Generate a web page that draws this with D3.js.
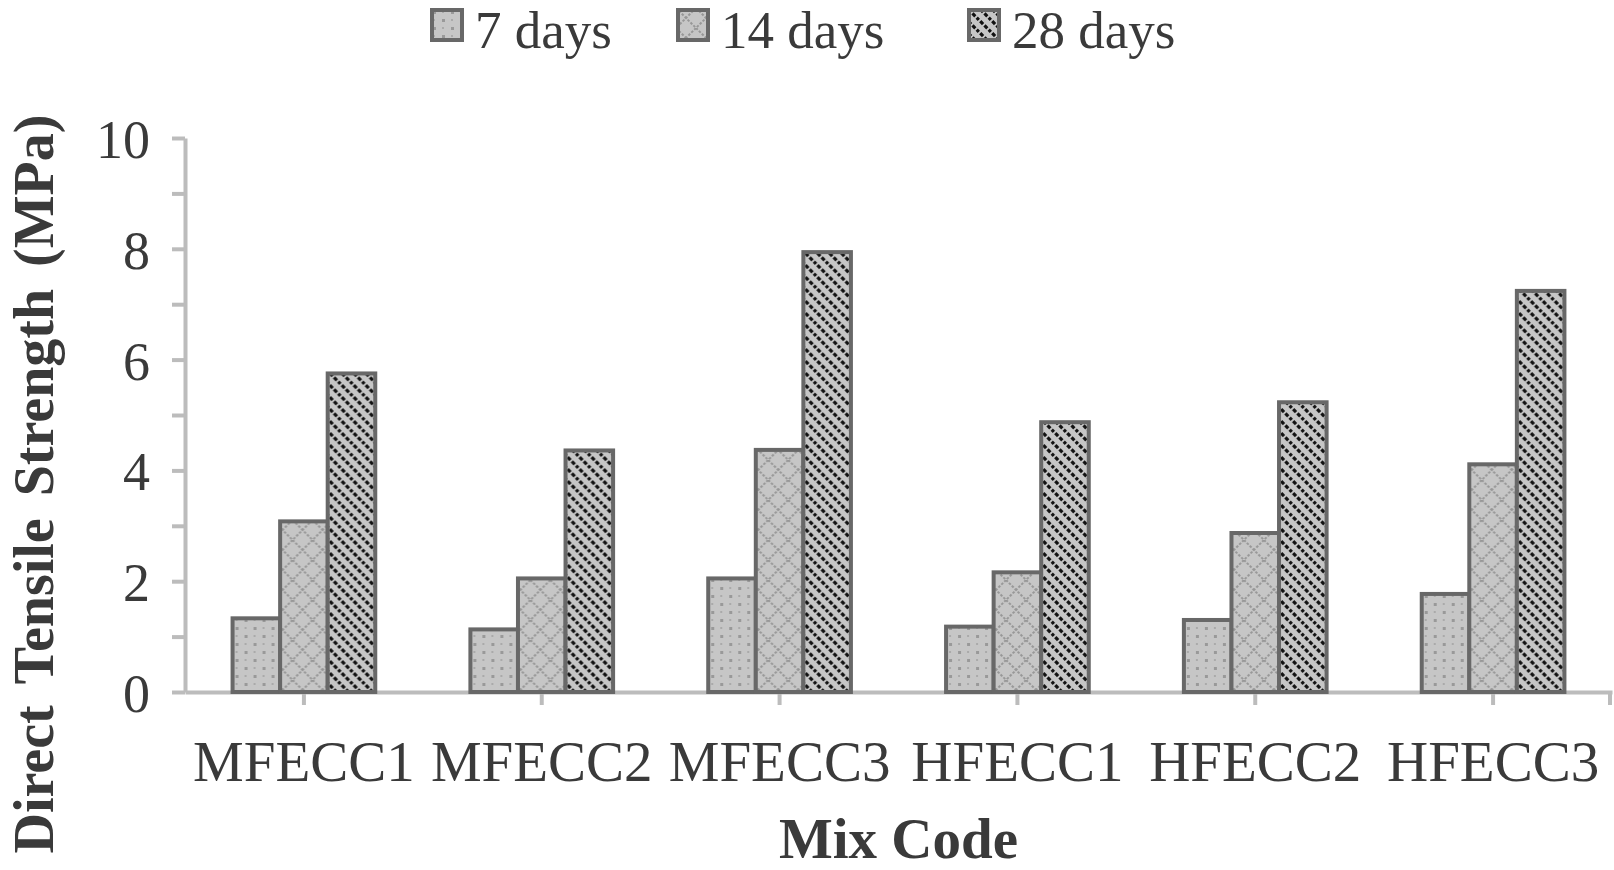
<!DOCTYPE html>
<html>
<head>
<meta charset="utf-8">
<script src="https://cdn.jsdelivr.net/npm/d3@7"></script>
<style>
  html, body { margin: 0; padding: 0; background: #ffffff; }
  svg { display: block; }
  text { font-family: "Liberation Serif", "Times New Roman", serif; fill: #3a3a3a; }
</style>
</head>
<body>
<svg id="chart" width="1614" height="870"></svg>
<script>
// ---- data ----
const categories = ["MFECC1", "MFECC2", "MFECC3", "HFECC1", "HFECC2", "HFECC3"];
const seriesNames = ["7 days", "14 days", "28 days"];
const days7  = [1.33, 1.13, 2.05, 1.18, 1.30, 1.77];
const days14 = [3.08, 2.05, 4.37, 2.16, 2.87, 4.11];
const days28 = [5.75, 4.36, 7.94, 4.87, 5.23, 7.24];
const yTicks = [0, 1, 2, 3, 4, 5, 6, 7, 8, 9, 10];
const yTitle = "Direct Tensile Strength (MPa)";
const xTitle = "Mix Code";

const seriesValues = [days7, days14, days28];

// ---- layout ----
const svg = d3.select("#chart");
const plotLeft = 185, plotRight = 1612, plotTop = 138, plotBottom = 692;

const x0 = d3.scaleBand().domain(categories).range([plotLeft, plotRight])
  .paddingInner(0.4).paddingOuter(0.2);
const x1 = d3.scaleBand().domain(seriesNames).range([0, x0.bandwidth()]).padding(0);
const y = d3.scaleLinear().domain([0, 10]).range([plotBottom, plotTop]);

// ---- patterns ----
const defs = svg.append("defs");
const bg = "#c6c6c6";

// 7 days: sparse small dots
const p1 = defs.append("pattern").attr("id", "pat0").attr("patternUnits", "userSpaceOnUse")
  .attr("width", 18).attr("height", 16);
p1.append("rect").attr("width", 18).attr("height", 16).attr("fill", bg);
p1.append("rect").attr("x", 3).attr("y", 3).attr("width", 3).attr("height", 3).attr("fill", "#999999");
p1.append("rect").attr("x", 12).attr("y", 11).attr("width", 3).attr("height", 3).attr("fill", "#999999");
p1.append("rect").attr("x", 12).attr("y", 3).attr("width", 2).attr("height", 2).attr("fill", "#aaaaaa");
p1.append("rect").attr("x", 3).attr("y", 11).attr("width", 2).attr("height", 2).attr("fill", "#aaaaaa");

// 14 days: diagonal lattice
const p2 = defs.append("pattern").attr("id", "pat1").attr("patternUnits", "userSpaceOnUse")
  .attr("width", 20).attr("height", 20);
p2.append("rect").attr("width", 20).attr("height", 20).attr("fill", bg);
p2.append("path").attr("d", "M0,0 L20,20 M20,0 L0,20")
  .attr("stroke", "#979797").attr("stroke-width", 2).attr("stroke-dasharray", "2.5 1.6").attr("fill", "none");

// 28 days: dashed downward diagonals
const P = 12;
const p3 = defs.append("pattern").attr("id", "pat2").attr("patternUnits", "userSpaceOnUse")
  .attr("width", P).attr("height", P);
p3.append("rect").attr("width", P).attr("height", P).attr("fill", bg);
p3.append("path").attr("d", `M-3,-3 L${P + 3},${P + 3} M-3,${P - 3} L3,${P + 3} M${P - 3},-3 L${P + 3},3`)
  .attr("stroke", "#111111").attr("stroke-width", 3.2).attr("stroke-dasharray", "4 2").attr("fill", "none");

// ---- axes ----
const axisColor = "#bcbcbc";

const yAxis = svg.append("g").attr("transform", `translate(${plotLeft},0)`)
  .call(d3.axisLeft(y).tickValues(yTicks).tickFormat(d => d % 2 === 0 ? d : "")
    .tickSize(13).tickSizeOuter(0).tickPadding(22));
yAxis.select(".domain").attr("stroke", axisColor).attr("stroke-width", 4);
yAxis.selectAll(".tick line").attr("stroke", axisColor).attr("stroke-width", 4);
yAxis.selectAll(".tick text").attr("font-size", 54).attr("fill", "#3a3a3a")
  .attr("font-family", "Liberation Serif").attr("dy", "0.36em");

const xAxis = svg.append("g").attr("transform", `translate(0,${plotBottom})`)
  .call(d3.axisBottom(x0).tickSize(13).tickSizeOuter(0).tickPadding(36));
xAxis.select(".domain").attr("stroke", axisColor).attr("stroke-width", 4);
xAxis.selectAll(".tick line").attr("stroke", axisColor).attr("stroke-width", 4);
xAxis.selectAll(".tick text").attr("font-size", 57).attr("fill", "#3a3a3a")
  .attr("font-family", "Liberation Serif").attr("dy", "0.71em");
// end tick at right edge
xAxis.append("line").attr("x1", plotRight - 2).attr("x2", plotRight - 2).attr("y1", 0).attr("y2", 13)
  .attr("stroke", axisColor).attr("stroke-width", 4);

// ---- bars ----
const groups = svg.append("g").selectAll("g").data(categories).join("g")
  .attr("transform", d => `translate(${x0(d)},0)`);

groups.selectAll("rect")
  .data((c, ci) => seriesNames.map((s, si) => ({ s, si, v: seriesValues[si][ci] })))
  .join("rect")
  .attr("x", d => x1(d.s))
  .attr("width", x1.bandwidth())
  .attr("y", d => y(d.v))
  .attr("height", d => y(0) - y(d.v))
  .attr("fill", d => `url(#pat${d.si})`)
  .attr("stroke", "#686868")
  .attr("stroke-width", 4);

// ---- legend ----
const legendX = [430, 676, 967];
const legend = svg.append("g").selectAll("g").data(seriesNames).join("g")
  .attr("transform", (d, i) => `translate(${legendX[i]},8)`);
legend.append("rect").attr("x", 2).attr("y", 2).attr("width", 30).attr("height", 30)
  .attr("fill", (d, i) => `url(#pat${i})`).attr("stroke", "#686868").attr("stroke-width", 4);
legend.append("text").attr("x", 45).attr("y", 40).attr("font-size", 53).text(d => d);

// ---- titles ----
svg.append("text").attr("x", (plotLeft + plotRight) / 2).attr("y", 858).attr("text-anchor", "middle")
  .attr("font-size", 57).attr("font-weight", "bold").text(xTitle);

svg.append("text").attr("transform", `translate(53,${484}) rotate(-90)`).attr("text-anchor", "middle")
  .attr("font-size", 56).attr("font-weight", "bold").attr("word-spacing", 8).text(yTitle);
</script>
</body>
</html>
